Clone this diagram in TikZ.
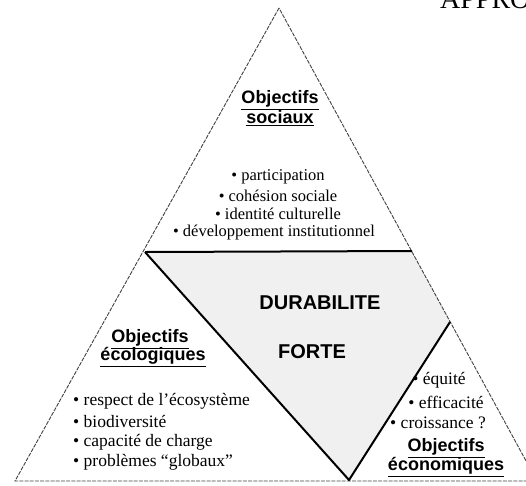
\documentclass[tikz,border=0pt]{standalone}
\usepackage{fontspec}
\setmainfont{Liberation Serif}
\newfontfamily\hsans{Liberation Sans}
\begin{document}
\begin{tikzpicture}[x=1pt,y=-1pt,
  outline/.style={draw=black!75, line width=0.9pt, dash pattern=on 4pt off 1.2pt},
  thick line/.style={draw=black, line width=2pt, line join=round},
  head/.style={font=\hsans\bfseries\fontsize{18}{20}\selectfont, inner sep=0pt, align=center},
  item/.style={font=\fontsize{17.5}{19}\selectfont, inner sep=0pt},
  sitem/.style={font=\fontsize{16.5}{18}\selectfont, inner sep=0pt},
  big/.style={font=\hsans\bfseries\fontsize{20}{22}\selectfont, inner sep=0pt}]
\useasboundingbox (0,0) rectangle (526,485);
\clip (0,0) rectangle (526,485);
% geometry
\coordinate (apex) at (279,8);
\coordinate (bl) at (15,481);
\coordinate (br) at (537,481);
\coordinate (hl) at (145,252);
\coordinate (hr) at (412,251);
\coordinate (dv) at (349,480);
\coordinate (sa) at (450,322);
% shaded central region
\fill[black!6] (hl) -- (hr) -- (sa) -- (dv) -- cycle;
% outer triangle
\draw[outline] (apex) -- (bl) -- (br) -- cycle;
% thick lines
\draw[thick line] (hl) -- (hr);
\draw[thick line] (hl) -- (dv) -- (sa);
% top clipped title
\node[anchor=base west, inner sep=0pt, font=\fontsize{28}{30}\selectfont] (title) at (440,8.5) {APPRO};
% social
\node[head] (soc1) at (280,100) {\underline{Objectifs}};
\node[head] (soc2) at (280,118) {\underline{sociaux}};
\node[sitem] (s1) at (278,177) {• participation};
\node[sitem] (s2) at (278,195.5) {• cohésion sociale};
\node[sitem] (s3) at (278,214) {• identité culturelle};
\node[sitem] (s4) at (274,232.5) {• développement institutionnel};
% durabilite
\node[big] (dur) at (320,303) {DURABILITE};
\node[big] (fort) at (312,352) {FORTE};
% ecological
\node[head] (eco1) at (150,339) {\underline{Objectifs}};
\node[head] (eco2) at (153,357) {\underline{écologiques}};
\node[item, anchor=west] (e1) at (73,401) {• respect de l'écosystème};
\node[item, anchor=west] (e2) at (73,421) {• biodiversité};
\node[item, anchor=west] (e3) at (73,442) {• capacité de charge};
\node[item, anchor=west] (e4) at (73,462) {• problèmes “globaux”};
% economic
\node[item] (c1) at (439,380) {• équité};
\node[item] (c2) at (446,402) {• efficacité};
\node[item] (c3) at (438,423) {• croissance ?};
\node[head] (ec1) at (446,448) {\underline{Objectifs}};
\node[head] (ec2) at (446,467) {\underline{économiques}};
\end{tikzpicture}
\end{document}
